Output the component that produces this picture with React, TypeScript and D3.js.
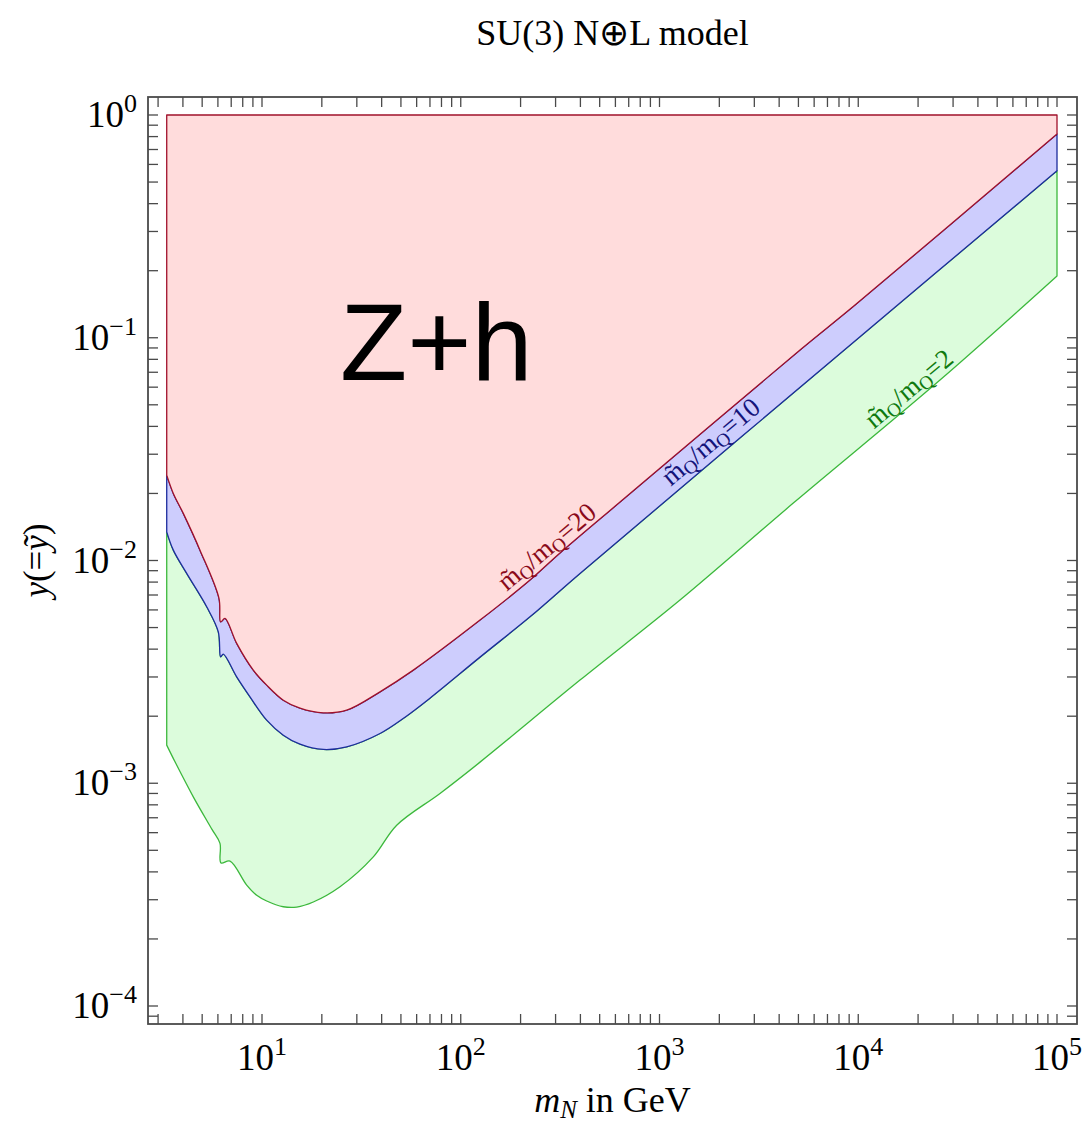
import React from "react";
import * as d3 from "d3";

// ---- data ----
const redX = [3.316, 3.579, 4.018, 4.875, 6.075, 6.196, 6.512, 7.459, 9.04, 10.56, 12.8, 15.53, 20.34, 26.68, 39.24, 57.71, 125.0, 223.0, 315.7, 632.9, 5093, 9630, 100000];
const redY = [0.02417, 0.02001, 0.01628, 0.01113, 0.006758, 0.005306, 0.005495, 0.004244, 0.003219, 0.002757, 0.00236, 0.002174, 0.00207, 0.002129, 0.002573, 0.003219, 0.0054, 0.00817, 0.0108, 0.0183, 0.0881, 0.1402, 0.822];

const blueX = [3.316, 3.579, 4.179, 5.269, 6.027, 6.196, 6.386, 7.459, 8.70, 10.56, 12.8, 15.53, 20.34, 26.68, 39.24, 52.43, 70.0, 125.0, 223.0, 398.1, 10205, 100000];
const blueY = [0.01345, 0.01113, 0.00875, 0.006196, 0.004784, 0.003694, 0.003799, 0.003004, 0.002443, 0.00192, 0.001644, 0.001498, 0.001418, 0.001457, 0.001673, 0.00198, 0.00241, 0.003683, 0.005588, 0.00875, 0.101, 0.562];

const greenX = [3.316, 3.650, 4.511, 5.602, 6.146, 6.217, 6.902, 8.375, 9.404, 10.56, 12.8, 14.95, 18.12, 24.69, 36.31, 47.62, 78.63, 125.0, 398.1, 1268, 4713, 25783, 100000];
const greenY = [0.001483, 0.001248, 0.000869, 0.0006203, 0.000537, 0.000439, 0.000447, 0.000349, 0.000314, 0.000296, 0.000279, 0.000278, 0.000293, 0.000343, 0.000467, 0.000648, 0.0009, 0.001244, 0.002904, 0.006643, 0.0181, 0.06457, 0.1893];

const topY = 1; // upper boundary of the excluded region

const xTickExps = [1, 2, 3, 4, 5];
const yTickExps = [0, -1, -2, -3, -4];

// curve labels
const labelRatios = ["20", "10", "2"];
const labelX = [289.4, 1936, 19190];
const labelY = [0.01075, 0.03184, 0.0551];
const labelColors = ["#8a0a1a", "#14147a", "#0f7a0f"];

const title = "SU(3) N\u2295L model";
const regionText = "Z+h";

// ---- layout ----
const W = 1085, H = 1125;
const L = 148, R = 1077, T = 97, B = 1024;
const decX = 198.75, decY = 222.75;

export default function App() {
  const x = d3.scaleLog()
    .domain([Math.pow(10, 1 - (262 - L) / decX), Math.pow(10, 5 + (R - 1057) / decX)])
    .range([L, R]);
  const y = d3.scaleLog()
    .domain([Math.pow(10, -4 - (B - 1006) / decY), Math.pow(10, (115 - T) / decY)])
    .range([B, T]);

  const pts = (xs: number[], ys: number[]) => xs.map((v, i) => [x(v), y(ys[i])] as [number, number]);
  const red = pts(redX, redY);
  const blue = pts(blueX, blueY);
  const green = pts(greenX, greenY);

  const line = d3.line<[number, number]>().curve(d3.curveCatmullRom.alpha(0.5));
  const seg = (p: [number, number][]) => line(p) as string;
  const cont = (p: [number, number][]) => "L" + seg(p).slice(1);

  const x0 = x(redX[0]);
  const x1 = x(redX[redX.length - 1]);
  const redPath = `M${x0},${y(topY)}L${x1},${y(topY)}` + cont([...red].reverse()) + "Z";
  const bluePath = seg(red) + cont([...blue].reverse()) + "Z";
  const greenPath = seg(blue) + cont([...green].reverse()) + "Z";

  // ticks
  const xMinor: number[] = [];
  for (let e = 0; e <= 5; e++) for (let m = 1; m <= 9; m++) {
    const v = m * Math.pow(10, e);
    if (x(v) >= L + 1 && x(v) <= R - 1) xMinor.push(v);
  }
  const yMinor: number[] = [];
  for (let e = -5; e <= 0; e++) for (let m = 1; m <= 9; m++) {
    const v = m * Math.pow(10, e);
    if (y(v) <= B - 1 && y(v) >= T + 1) yMinor.push(v);
  }
  const tl = 10;
  const frameColor = "#4a4a4a";
  const serif = "'Liberation Serif', 'Times New Roman', serif";

  const fmtExp = (e: number) => (e < 0 ? "\u2212" + Math.abs(e) : String(e));

  return (
    <svg width={W} height={H} style={{ position: "absolute", left: 0, top: 0, background: "#fff" }}>
      <rect x={0} y={0} width={W} height={H} fill="#fff" />
      {/* regions */}
      <path d={greenPath} fill="#dcfcdc" stroke="#3cb83c" strokeWidth={1.3} strokeLinejoin="round" />
      <path d={bluePath} fill="#cdcdfd" stroke="#1c2c9c" strokeWidth={1.3} strokeLinejoin="round" />
      <path d={redPath} fill="#ffdcdc" stroke="#a0102a" strokeWidth={1.3} strokeLinejoin="round" />

      {/* curve labels */}
      {labelRatios.map((r, i) => (
        <text key={r} transform={`translate(${x(labelX[i])},${y(labelY[i])}) rotate(-40)`}
          textAnchor="middle" fontFamily={serif} fontSize={27} fill={labelColors[i]}>
          m{"\u0303"}<tspan fontSize={19} dy={4}>Q</tspan><tspan dy={-4}>/m</tspan><tspan fontSize={19} dy={4}>Q</tspan><tspan dy={-4}>={r}</tspan>
        </text>
      ))}

      {/* Z+h */}
      <text x={340} y={380} fontFamily="'Liberation Sans', Arial, sans-serif" fontSize={110} fill="#000">{regionText}</text>

      {/* frame */}
      <rect x={L} y={T} width={R - L} height={B - T} fill="none" stroke={frameColor} strokeWidth={1.8} />
      {xMinor.map((v, i) => (
        <g key={"xt" + i} stroke={frameColor} strokeWidth={1.3}>
          <line x1={x(v)} x2={x(v)} y1={B} y2={B - tl} />
          <line x1={x(v)} x2={x(v)} y1={T} y2={T + tl} />
        </g>
      ))}
      {yMinor.map((v, i) => (
        <g key={"yt" + i} stroke={frameColor} strokeWidth={1.3}>
          <line x1={L} x2={L + tl} y1={y(v)} y2={y(v)} />
          <line x1={R} x2={R - tl} y1={y(v)} y2={y(v)} />
        </g>
      ))}

      {/* tick labels */}
      {xTickExps.map((e) => (
        <text key={"xl" + e} x={x(Math.pow(10, e))} y={1070} textAnchor="middle" fontFamily={serif} fontSize={37} fill="#000">
          10<tspan dy={-15} fontSize={26}>{fmtExp(e)}</tspan>
        </text>
      ))}
      {yTickExps.map((e) => (
        <text key={"yl" + e} x={137} y={y(Math.pow(10, e)) + 12} textAnchor="end" fontFamily={serif} fontSize={37} fill="#000">
          10<tspan dy={-15} fontSize={26}>{fmtExp(e)}</tspan>
        </text>
      ))}

      {/* axis titles */}
      <text x={(L + R) / 2} y={1112} textAnchor="middle" fontFamily={serif} fontSize={36} fill="#000">
        <tspan fontStyle="italic">m</tspan><tspan fontStyle="italic" fontSize={25} dy={6}>N</tspan><tspan dy={-6}> in GeV</tspan>
      </text>
      <text transform={`translate(48,${(T + B) / 2}) rotate(-90)`} textAnchor="middle" fontFamily={serif} fontSize={35} fill="#000">
        <tspan fontStyle="italic">y</tspan>(=<tspan fontStyle="italic">{"y\u0303"}</tspan>)
      </text>
      <text x={(L + R) / 2} y={45} textAnchor="middle" fontFamily={serif} fontSize={36} fill="#000">{title}</text>
    </svg>
  );
}
